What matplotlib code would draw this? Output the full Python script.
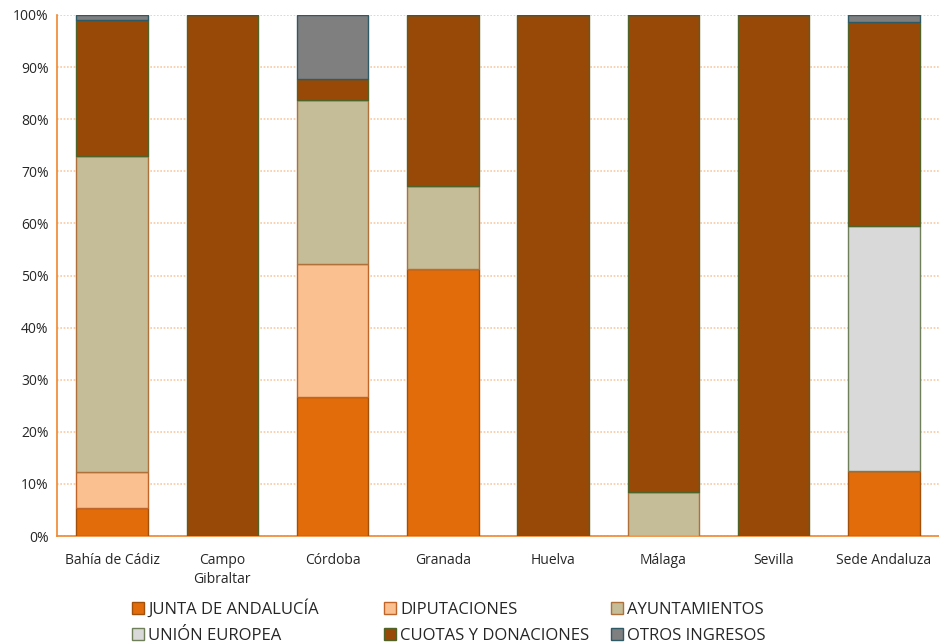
import numpy as np
import matplotlib.pyplot as plt

plt.rcParams['font.family'] = ['Open Sans', 'DejaVu Sans']

# Data (% of income per source)
regions = ["Bahía de Cádiz", "Campo\nGibraltar", "Córdoba", "Granada",
           "Huelva", "Málaga", "Sevilla", "Sede Andaluza"]

junta = [5.4, 0, 26.7, 51.2, 0, 0, 0, 12.5]
diputaciones = [6.9, 0, 25.5, 0, 0, 0, 0, 0]
ayuntamientos = [60.6, 0, 31.5, 16.0, 0, 8.4, 0, 0]
union_europea = [0, 0, 0, 0, 0, 0, 0, 47.0]
cuotas = [26.1, 100, 4.0, 32.8, 100, 91.6, 100, 39.2]
otros = [1.0, 0, 12.3, 0, 0, 0, 0, 1.3]

series = [
    ("JUNTA DE ANDALUCÍA", junta, "#E36C0A", "#A0500A"),
    ("DIPUTACIONES", diputaciones, "#FAC090", "#C0652A"),
    ("AYUNTAMIENTOS", ayuntamientos, "#C4BD97", "#B0703A"),
    ("UNIÓN EUROPEA", union_europea, "#D9D9D9", "#6E7F5A"),
    ("CUOTAS Y DONACIONES", cuotas, "#984807", "#4F6228"),
    ("OTROS INGRESOS", otros, "#7F7F7F", "#2E5A66"),
]

fig = plt.figure(figsize=(9.39, 6.44), dpi=100)
ax = fig.add_axes([57 / 939, 1 - 536 / 644, 882 / 939, 521 / 644])

x = np.arange(len(regions))
bottom = np.zeros(len(regions))
handles = []
for name, vals, fc, ec in series:
    vals = np.array(vals)
    b = ax.bar(x, vals, 0.65, bottom=bottom, color=fc, edgecolor=ec,
               linewidth=1.0, label=name, zorder=3)
    handles.append(b)
    bottom += vals

ax.set_xlim(-0.5, 7.5)
ax.set_ylim(0, 100)
ax.set_yticks(np.arange(0, 101, 10))
ax.set_yticklabels([f"{v}%" for v in range(0, 101, 10)], fontsize=10, color="#262626")
ax.set_xticks(x)
ax.set_xticklabels(regions, fontsize=10, color="#262626", linespacing=1.35)
ax.tick_params(axis='x', length=0, pad=12)
ax.tick_params(axis='y', length=0, pad=6)

ax.grid(axis='y', linestyle=(0, (1, 1)), color="#FAC8A2", linewidth=1.2, zorder=0)
for s in ["top", "right"]:
    ax.spines[s].set_visible(False)
for s in ["left", "bottom"]:
    ax.spines[s].set_color("#F0882E")
    ax.spines[s].set_linewidth(1.2)

# legend: three columns, each one a small legend so the columns sit on a fixed grid
col_x = [124, 376, 603]
for c in range(3):
    idx = [c, c + 3]
    leg = fig.legend([handles[i] for i in idx], [series[i][0] for i in idx],
                     ncol=1, loc="lower left", bbox_to_anchor=(col_x[c] / 939, -0.013),
                     frameon=False, fontsize=12, handlelength=0.7, handleheight=0.7,
                     handletextpad=0.25, labelspacing=0.62, borderaxespad=0.1)
    for t in leg.get_texts():
        t.set_color("#262626")

fig.savefig("out.png", dpi=100)
